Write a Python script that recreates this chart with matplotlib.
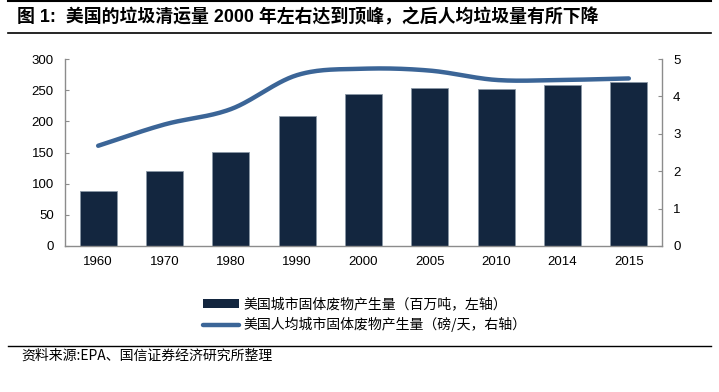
import numpy as np
import matplotlib
matplotlib.use("Agg")
import matplotlib.pyplot as plt
from matplotlib.lines import Line2D
from matplotlib.patches import Patch

plt.rcParams['font.family'] = ['Liberation Sans', 'Noto Sans CJK SC', 'DejaVu Sans']

years = ['1960', '1970', '1980', '1990', '2000', '2005', '2010', '2014', '2015']
msw_total = [88.1, 121.1, 151.6, 208.3, 243.5, 253.7, 251.1, 258.5, 262.4]
msw_per_capita = [2.68, 3.25, 3.66, 4.57, 4.74, 4.69, 4.44, 4.44, 4.48]
left_ticks = [0, 50, 100, 150, 200, 250, 300]
right_ticks = [0, 1, 2, 3, 4, 5]

title = '图 1:  美国的垃圾清运量 2000 年左右达到顶峰，之后人均垃圾量有所下降'
legend_bar = '美国城市固体废物产生量（百万吨，左轴）'
legend_line = '美国人均城市固体废物产生量（磅/天，右轴）'
source = '资料来源:EPA、国信证券经济研究所整理'

BAR_C = '#13263f'
LINE_C = '#3b6597'
SPINE_C = '#8c8c8c'


def catmull_rom(xs, ys, n=30):
    xs = np.asarray(xs, float)
    ys = np.asarray(ys, float)
    px = np.concatenate([[2 * xs[0] - xs[1]], xs, [2 * xs[-1] - xs[-2]]])
    py = np.concatenate([[2 * ys[0] - ys[1]], ys, [2 * ys[-1] - ys[-2]]])
    ox, oy = [], []
    for i in range(1, len(px) - 2):
        t = np.linspace(0, 1, n, endpoint=False)
        for arr, out in ((px, ox), (py, oy)):
            p0, p1, p2, p3 = arr[i - 1], arr[i], arr[i + 1], arr[i + 2]
            out.extend(0.5 * ((2 * p1) + (-p0 + p2) * t +
                              (2 * p0 - 5 * p1 + 4 * p2 - p3) * t ** 2 +
                              (-p0 + 3 * p1 - 3 * p2 + p3) * t ** 3))
    ox.append(xs[-1])
    oy.append(ys[-1])
    return np.array(ox), np.array(oy)


fig = plt.figure(figsize=(7.19, 3.92), dpi=100)
ax = fig.add_axes([65 / 719, 1 - 246 / 392, (662 - 65) / 719, (246 - 59) / 392])
x = np.arange(len(years))
ax.bar(x, msw_total, width=0.56, color=BAR_C, edgecolor='#8a97a6', linewidth=0.6, zorder=2)
ax.set_xlim(-0.5, len(years) - 0.5)
ax.set_ylim(0, 300)
ax.set_yticks(left_ticks)
ax.set_xticks(x)
ax.set_xticklabels(years)
ax.tick_params(axis='y', direction='in', length=3, color=SPINE_C, labelsize=9.5, pad=8)
ax.tick_params(axis='x', length=0, labelsize=9.5, pad=7)
for s in ['top', 'right']:
    ax.spines[s].set_visible(False)
for s in ['left', 'bottom']:
    ax.spines[s].set_color(SPINE_C)
    ax.spines[s].set_linewidth(1.0)

ax2 = ax.twinx()
sx, sy = catmull_rom(x, msw_per_capita)
ax2.plot(sx, sy, color=LINE_C, linewidth=3.2, solid_capstyle='round', zorder=3)
ax2.set_ylim(0, 5)
ax2.set_yticks(right_ticks)
ax2.tick_params(axis='y', direction='in', length=3, color=SPINE_C, labelsize=9.5, pad=8)
for s in ['top', 'left', 'bottom']:
    ax2.spines[s].set_visible(False)
ax2.spines['right'].set_color(SPINE_C)
ax2.spines['right'].set_linewidth(1.0)

# title and rules
fig.add_artist(Line2D([8 / 719, 711 / 719], [1 - 1 / 392, 1 - 1 / 392], color='black', linewidth=1.5))
fig.text(17 / 719, 1 - 17 / 392, title, fontsize=12.9, fontweight='bold', va='center', ha='left',
         family=['Liberation Sans', 'Noto Sans CJK SC'])
fig.add_artist(Line2D([8 / 719, 711 / 719], [1 - 32.5 / 392, 1 - 32.5 / 392], color='black', linewidth=1.2))

handles = [Patch(facecolor=BAR_C, edgecolor='none'),
           Line2D([0], [0], color=LINE_C, linewidth=3.2, solid_capstyle='round')]
fig.legend(handles, [legend_bar, legend_line], loc='upper left',
           bbox_to_anchor=(190 / 719, 1 - 285 / 392), frameon=False,
           handlelength=2.6, handleheight=0.55, labelspacing=0.4,
           handletextpad=0.35, prop={'family': ['Noto Sans CJK SC'], 'size': 10})

fig.add_artist(Line2D([8 / 719, 711 / 719], [1 - 346 / 392, 1 - 346 / 392], color='black', linewidth=1.0))
fig.text(21 / 719, 1 - 356 / 392, source, fontsize=10, va='center', ha='left',
         family=['Noto Sans CJK SC', 'Liberation Sans'])

fig.savefig('out.png', dpi=100)
